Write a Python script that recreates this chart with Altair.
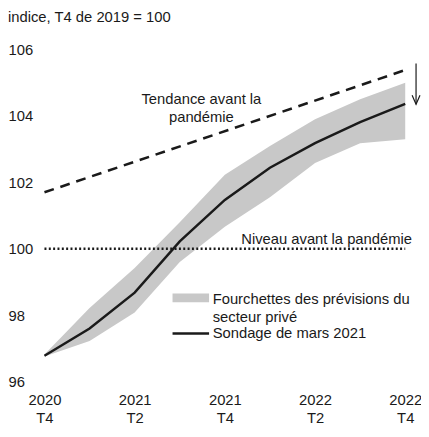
import json
import altair as alt
import pandas as pd

# ---- data ----
quarters = ["2020 T4", "2021 T1", "2021 T2", "2021 T3", "2021 T4",
            "2022 T1", "2022 T2", "2022 T3", "2022 T4"]
survey = [96.78, 97.60, 98.68, 100.22, 101.47, 102.44, 103.18, 103.81, 104.36]
band_hi = [96.82, 98.22, 99.42, 100.80, 102.23, 103.09, 103.90, 104.50, 105.00]
band_lo = [96.76, 97.22, 98.08, 99.60, 100.66, 101.55, 102.58, 103.18, 103.30]
trend_q = [0, 8]
trend_v = [101.70, 105.38]
level_v = [100, 100]

tick_pos = [0, 2, 4, 6, 8]
tick_labels = [["2020", "T4"], ["2021", "T2"], ["2021", "T4"], ["2022", "T2"], ["2022", "T4"]]
y_ticks = [96, 98, 100, 102, 104, 106]

FONT = "Liberation Sans"
FS = 15
INK = "#1a1a1a"
GRAY = "#c8c8c8"

df = pd.DataFrame({"q": list(range(len(quarters))), "label": quarters,
                   "survey": survey, "hi": band_hi, "lo": band_lo})
trend_df = pd.DataFrame({"q": trend_q, "v": trend_v})
level_df = pd.DataFrame({"q": trend_q, "v": level_v})

label_expr = "{}[indexof({}, datum.value)]".format(json.dumps(tick_labels), json.dumps(tick_pos))

xscale = alt.Scale(domain=[0, 8], nice=False, zero=False)
yscale = alt.Scale(domain=[96, 106], nice=False, zero=False)

x_axis = alt.Axis(values=tick_pos, labelExpr=label_expr, title=None, domain=False,
                  ticks=False, grid=False, labelFont=FONT, labelFontSize=FS,
                  labelColor=INK, labelPadding=11, labelLineHeight=18.5,
                  labelBaseline="top", labelFlush=False, labelOverlap=False)
y_axis = alt.Axis(values=y_ticks, title=None, domain=False, ticks=False, grid=False,
                  labelFont=FONT, labelFontSize=FS, labelColor=INK,
                  labelAlign="left", labelPadding=37, labelBaseline="middle")

X = alt.X("q:Q", scale=xscale, axis=x_axis)

band = alt.Chart(df).mark_area(color=GRAY, opacity=1).encode(
    x=X, y=alt.Y("lo:Q", scale=yscale, axis=y_axis), y2="hi:Q")

line = alt.Chart(df).mark_line(color=INK, strokeWidth=2.5).encode(
    x="q:Q", y="survey:Q")

trend = alt.Chart(trend_df).mark_line(color=INK, strokeWidth=2.6, strokeDash=[10, 7]).encode(
    x="q:Q", y="v:Q")

level = alt.Chart(level_df).mark_line(color=INK, strokeWidth=2.5, strokeDash=[2, 2.4]).encode(
    x="q:Q", y="v:Q")

# ---- annotations (positions in data units; y is the first text line) ----
ann_a = pd.DataFrame({"q": [3.48], "v": [104.51], "t": [["Tendance avant la", "pandémie"]]})
ann_b = pd.DataFrame({"q": [8.15], "v": [100.28], "t": [["Niveau avant la pandémie"]]})
ann_center = alt.Chart(ann_a).mark_text(
    font=FONT, fontSize=FS, color=INK, align="center", baseline="middle", lineHeight=18
).encode(x="q:Q", y="v:Q", text="t")
ann_right = alt.Chart(ann_b).mark_text(
    font=FONT, fontSize=FS, color=INK, align="right", baseline="middle"
).encode(x="q:Q", y="v:Q", text="t")

arrow_df = pd.DataFrame({"q": [8.24], "top": [105.58], "tip": [104.35]})
arrow_shaft = alt.Chart(arrow_df).mark_rule(color=INK, strokeWidth=1.2).encode(
    x="q:Q", y="top:Q", y2="tip:Q")
arrow_head = alt.Chart(arrow_df).mark_point(
    shape="M-1,-2.3L0,0L1,-2.3", filled=False, color=INK, strokeWidth=1.2, size=64, opacity=1
).encode(x="q:Q", y="tip:Q")

# manual legend
leg_sw = pd.DataFrame({"q": [2.84], "q2": [3.65], "v_band": [98.52], "v_line": [97.45]})
leg_band = alt.Chart(leg_sw).mark_rule(color=GRAY, strokeWidth=9, strokeCap="butt").encode(
    x="q:Q", x2="q2:Q", y="v_band:Q")
leg_line = alt.Chart(leg_sw).mark_rule(color=INK, strokeWidth=2.5).encode(
    x="q:Q", x2="q2:Q", y="v_line:Q")
leg_a = pd.DataFrame({"q": [3.73], "v": [98.49], "t": [["Fourchettes des prévisions du", "secteur privé"]]})
leg_b = pd.DataFrame({"q": [3.73], "v": [97.45], "t": [["Sondage de mars 2021"]]})
leg_text1 = alt.Chart(leg_a).mark_text(
    font=FONT, fontSize=FS, color=INK, align="left", baseline="middle", lineHeight=18
).encode(x="q:Q", y="v:Q", text="t")
leg_text2 = alt.Chart(leg_b).mark_text(
    font=FONT, fontSize=FS, color=INK, align="left", baseline="middle"
).encode(x="q:Q", y="v:Q", text="t")

chart = alt.layer(
    band, level, trend, line, ann_center, ann_right, arrow_shaft, arrow_head,
    leg_band, leg_line, leg_text1, leg_text2
).properties(
    width=366, height=337,
    title=alt.TitleParams("indice, T4 de 2019 = 100", anchor="start", offset=18,
                          font=FONT, fontSize=FS, fontWeight="normal", color=INK),
    autosize=alt.AutoSizeParams(type="none"),
    padding={"left": 37, "top": 39, "right": 16, "bottom": 45},
).configure_view(stroke=None)

chart.save("out.html", embed_options={"renderer": "svg", "actions": False})
